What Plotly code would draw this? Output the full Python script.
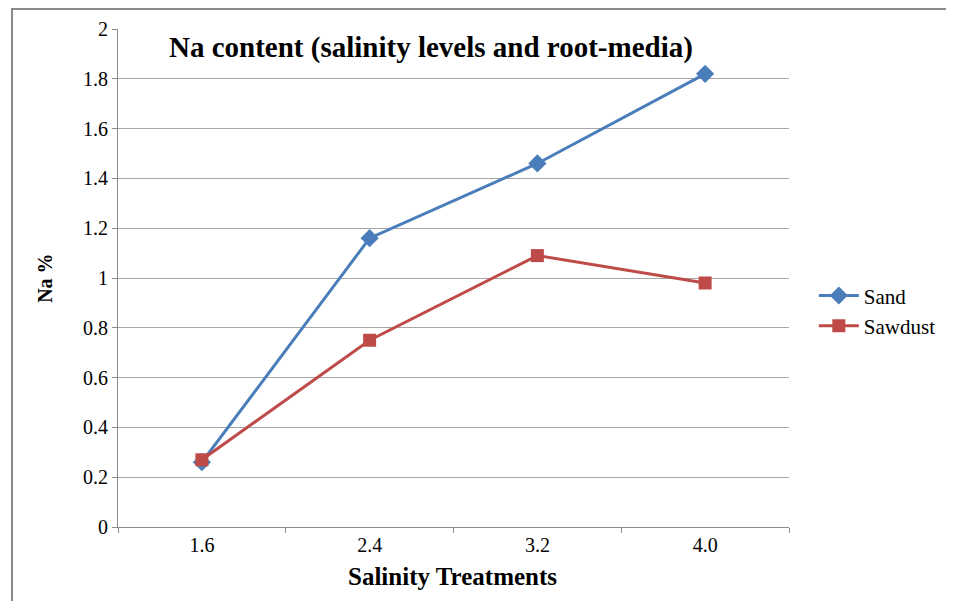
import plotly.graph_objects as go

categories = ["1.6", "2.4", "3.2", "4.0"]
sand = [0.26, 1.16, 1.46, 1.82]
sawdust = [0.27, 0.75, 1.09, 0.98]

FONT = "Liberation Serif"
AXIS_COLOR = "#8c8c8c"
GRID_COLOR = "#a6a6a6"

fig = go.Figure()
fig.add_trace(go.Scatter(
    x=categories, y=sand, name="Sand", mode="lines+markers",
    line=dict(color="#4A7EBB", width=3),
    marker=dict(symbol="diamond", size=14, color="#4A7EBB"),
))
fig.add_trace(go.Scatter(
    x=categories, y=sawdust, name="Sawdust", mode="lines+markers",
    line=dict(color="#BE4B48", width=3),
    marker=dict(symbol="square", size=13, color="#BE4B48"),
))

# page body has an 8px margin, so figure coordinates are shifted by 8px
fig.update_layout(
    width=946, height=593,
    margin=dict(l=110, r=165, t=21, b=74, autoexpand=False),
    paper_bgcolor="white", plot_bgcolor="white",
    font=dict(family=FONT, size=19, color="black"),
    showlegend=True,
    legend=dict(x=1.037, y=0.434, xanchor="left", yanchor="middle",
                font=dict(family=FONT, size=21, color="black"),
                itemwidth=40, bgcolor="rgba(0,0,0,0)"),
    xaxis=dict(type="category", tickson="boundaries", showgrid=False,
               showline=True, linecolor=AXIS_COLOR, linewidth=1,
               ticks="outside", ticklen=5, tickcolor=AXIS_COLOR,
               tickfont=dict(family=FONT, size=20), range=[-0.5, 3.5]),
    yaxis=dict(range=[0, 2], dtick=0.2, showgrid=True, gridcolor=GRID_COLOR,
               gridwidth=1, showline=True, linecolor=AXIS_COLOR, linewidth=1,
               ticks="outside", ticklen=5, tickcolor=AXIS_COLOR,
               tickfont=dict(family=FONT, size=20), zeroline=False),
    annotations=[
        dict(text="<b>Na content (salinity levels and root-media)</b>",
             x=0.466, y=0.962, xref="paper", yref="paper", showarrow=False,
             font=dict(family=FONT, size=29), xanchor="center", yanchor="middle"),
        dict(text="<b>Na %</b>", x=-0.109, y=0.5, xref="paper", yref="paper",
             showarrow=False, textangle=-90, font=dict(family=FONT, size=20),
             xanchor="center", yanchor="middle"),
        dict(text="<b>Salinity Treatments</b>", x=0.498, y=-0.1, xref="paper",
             yref="paper", showarrow=False, font=dict(family=FONT, size=25),
             xanchor="center", yanchor="middle"),
    ],
    shapes=[dict(type="rect", xref="paper", yref="paper",
                 x0=-0.158, y0=-0.3, x1=1.4, y1=1.040,
                 line=dict(color="#8a8a8a", width=2), layer="below")],
)

fig.write_html("out.html")
